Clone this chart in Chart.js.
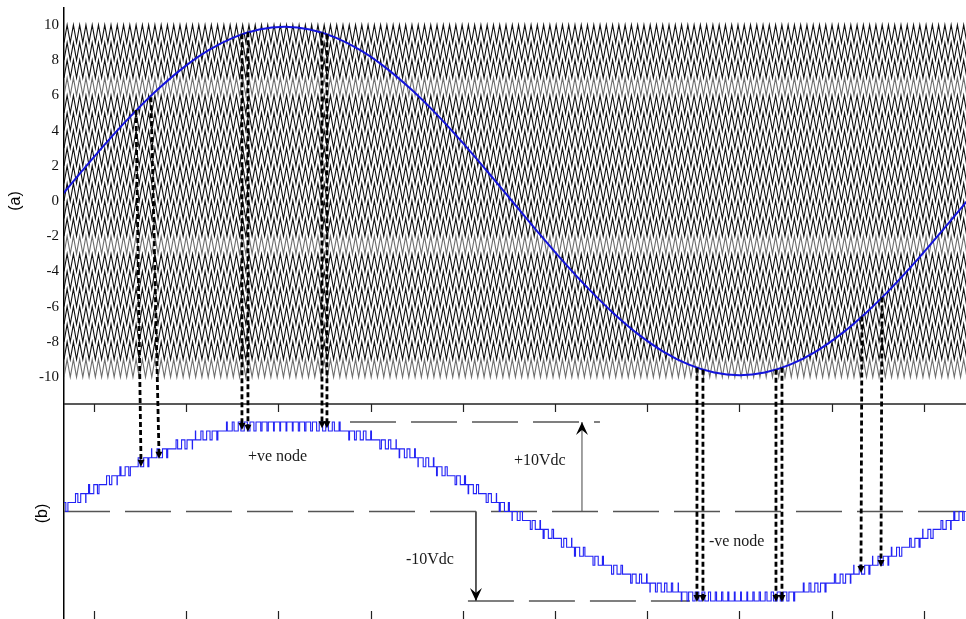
<!DOCTYPE html>
<html>
<head>
<meta charset="utf-8">
<script src="https://cdn.jsdelivr.net/npm/chart.js@4.4.1/dist/chart.umd.min.js"></script>
<style>
  html, body { margin: 0; padding: 0; background: #fff; overflow: hidden; }
  #wrap { width: 966px; height: 619px; position: relative; }
</style>
</head>
<body>
<div id="wrap"><canvas id="chart" width="966" height="619"></canvas></div>
<script>
// x is in bottom-axis tick units (one unit per tick mark)
const xTicks = [0, 1, 2, 3, 4, 5, 6, 7, 8, 9];
const yTicks = [-10, -8, -6, -4, -2, 0, 2, 4, 6, 8, 10];
const xMin = -0.325, xMax = 9.458;

// reference (modulating) wave
const refX = [-0.401, -0.127, 0.147, 0.422, 0.696, 0.970, 1.244, 1.518, 1.792, 2.067,
              2.341, 2.615, 2.889, 3.163, 3.437, 3.712, 3.986, 4.260, 4.534, 4.808,
              5.082, 5.357, 5.631, 5.905, 6.179, 6.453, 6.727, 7.002, 7.276, 7.550,
              7.824, 8.098, 8.372, 8.647, 8.921, 9.195, 9.469, 9.743];
const refY = [0, 1.72, 3.39, 4.95, 6.36, 7.58, 8.57, 9.30, 9.75, 9.90,
              9.75, 9.30, 8.57, 7.58, 6.36, 4.95, 3.39, 1.72, 0, -1.72,
              -3.39, -4.95, -6.36, -7.58, -8.57, -9.30, -9.75, -9.90, -9.75, -9.30,
              -8.57, -7.58, -6.36, -4.95, -3.39, -1.72, 0, 1.72];

// level-shifted triangular carriers: lower edge of each band
const bandLow = [-10, -9, -8, -7, -6, -5, -4, -3, -2, -1, 0, 1, 2, 3, 4, 5, 6, 7, 8, 9];
const grayBands = [6, -3, -10];
const carrierPeriod = 0.068;

// dashed arrows: [x on sine, sine value, x at tip, output level at tip]
const arrows = [
  [0.456, 5.17, 0.510, 5.0],
  [0.618, 5.90, 0.705, 5.9],
  [1.605, 9.48, 1.605, 9.1],
  [1.670, 9.59, 1.670, 8.9],
  [2.473, 9.57, 2.473, 9.3],
  [2.527, 9.48, 2.527, 9.3],
  [6.540, -9.48, 6.540, -10.1],
  [6.605, -9.59, 6.605, -10.1],
  [7.397, -9.59, 7.397, -10.1],
  [7.462, -9.48, 7.462, -10.1],
  [8.330, -6.56, 8.319, -6.87],
  [8.547, -5.48, 8.536, -6.2]
];

// long dashed guide lines in panel (b): [x from, x to, level]
const guideLines = [
  [2.777, 5.488, 10],
  [-0.325, 9.458, 0],
  [4.056, 6.464, -10]
];

// DC level arrows: [x, from level, to level]
const dcArrows = [
  [5.293, 0, 10],
  [4.143, 0, -10]
];

// text notes in panel (b): [text, x, level]
const notes = [
  ['+ve node', 1.670, 6.09],
  ['+10Vdc', 4.555, 5.64],
  ['-10Vdc', 3.384, -5.42],
  ['-ve node', 6.670, -3.41]
];

function refAt(x) {
  let j = 0;
  while (j < refX.length - 2 && refX[j + 1] < x) j++;
  const t = (x - refX[j]) / (refX[j + 1] - refX[j]);
  return refY[j] + t * (refY[j + 1] - refY[j]);
}
function carrierAt(x) {
  const f = ((x - xMin) / carrierPeriod) % 1;
  return 1 - Math.abs(2 * f - 1);
}

const datasets = [];

bandLow.forEach(k => {
  const pts = [];
  for (let i = 0; xMin + i * carrierPeriod / 2 <= xMax + carrierPeriod; i++) {
    pts.push({ x: xMin + i * carrierPeriod / 2, y: i % 2 ? k + 1 : k });
  }
  datasets.push({
    data: pts, yAxisID: 'y', order: 10,
    borderColor: grayBands.includes(k) ? '#6e6e6e' : '#111',
    borderWidth: 1.1
  });
});

datasets.push({
  data: refX.map((x, i) => ({ x: x, y: refY[i] })),
  yAxisID: 'y', order: 1,
  borderColor: '#1414dc', borderWidth: 2,
  cubicInterpolationMode: 'monotone'
});

// multilevel output: reference compared with the carriers
const outPts = [];
for (let x = xMin; x <= xMax; x += carrierPeriod / 24) {
  const s = refAt(x);
  const n = Math.floor(s);
  outPts.push({ x: x, y: n + (s - n > carrierAt(x) ? 1 : 0) });
}
datasets.push({
  data: outPts, yAxisID: 'y2', order: 2,
  borderColor: '#2323f5', borderWidth: 1.1, stepped: 'after'
});

guideLines.forEach(g => {
  datasets.push({
    data: [{ x: g[0], y: g[2] }, { x: g[1], y: g[2] }],
    yAxisID: 'y2', order: 3,
    borderColor: '#555', borderWidth: 1.3, borderDash: [46, 15]
  });
});

dcArrows.forEach(a => {
  datasets.push({
    data: [{ x: a[0], y: a[1] }, { x: a[0], y: a[2] }],
    yAxisID: 'y2', order: 3,
    borderColor: '#444', borderWidth: 1
  });
});

const panelEdge = 12.01;   // top edge of panel (b), in its own units

const decor = {
  id: 'decor',
  afterDatasetsDraw(chart) {
    const c = chart.ctx, xs = chart.scales.x, ys = chart.scales.y, y2 = chart.scales.y2;
    const area = chart.chartArea;
    c.save();

    // panel (b) frame line and tick marks
    const sep = y2.getPixelForValue(panelEdge);
    c.strokeStyle = '#222';
    c.lineWidth = 1.5;
    c.beginPath();
    c.moveTo(area.left, sep); c.lineTo(area.right, sep);
    c.stroke();
    c.lineWidth = 1.2;
    xTicks.forEach(v => {
      const px = Math.round(xs.getPixelForValue(v)) + 0.5;
      c.beginPath();
      c.moveTo(px, sep); c.lineTo(px, sep + 8);
      c.moveTo(px, area.bottom); c.lineTo(px, area.bottom - 8);
      c.stroke();
    });

    // DC arrow heads
    c.fillStyle = '#000';
    dcArrows.forEach(a => {
      const px = xs.getPixelForValue(a[0]);
      const tip = y2.getPixelForValue(a[2]);
      const d = a[2] > a[1] ? 1 : -1;
      c.beginPath();
      c.moveTo(px, tip);
      c.lineTo(px - 6, tip + d * 13);
      c.lineTo(px, tip + d * 8);
      c.lineTo(px + 6, tip + d * 13);
      c.closePath();
      c.fill();
    });

    // dashed projection arrows
    arrows.forEach(a => {
      const x1 = xs.getPixelForValue(a[0]), yA = ys.getPixelForValue(a[1]);
      const x2 = xs.getPixelForValue(a[2]), yB = y2.getPixelForValue(a[3]);
      c.strokeStyle = '#000';
      c.lineWidth = 2.8;
      c.setLineDash([5, 3]);
      c.beginPath();
      c.moveTo(x1, yA); c.lineTo(x2, yB - 6);
      c.stroke();
      c.setLineDash([]);
      c.beginPath();
      c.moveTo(x2, yB);
      c.lineTo(x2 - 3.5, yB - 7);
      c.lineTo(x2 + 3.5, yB - 7);
      c.closePath();
      c.fill();
    });

    // notes
    c.fillStyle = '#1a1a1a';
    c.font = '16px "Liberation Serif", "Times New Roman", serif';
    c.textAlign = 'left';
    c.textBaseline = 'middle';
    notes.forEach(n => {
      c.fillText(n[0], xs.getPixelForValue(n[1]), y2.getPixelForValue(n[2]));
    });

    // panel labels
    c.fillStyle = '#000';
    c.font = '16px "Liberation Sans", Arial, sans-serif';
    c.textAlign = 'center';
    [['(a)', 16, ys.getPixelForValue(0)], ['(b)', 43, y2.getPixelForValue(0) + 2]].forEach(l => {
      c.save();
      c.translate(l[1], l[2]);
      c.rotate(-Math.PI / 2);
      c.fillText(l[0], 0, 0);
      c.restore();
    });

    c.restore();
  }
};

new Chart(document.getElementById('chart'), {
  type: 'line',
  data: { datasets: datasets },
  options: {
    responsive: false,
    devicePixelRatio: 1,
    animation: false,
    parsing: false,
    normalized: true,
    events: [],
    layout: { padding: { top: 8, left: 0, right: 0, bottom: 0 } },
    elements: { point: { radius: 0 }, line: { tension: 0 } },
    plugins: { legend: { display: false }, tooltip: { enabled: false } },
    scales: {
      x: { type: 'linear', min: xMin, max: xMax, display: false },
      y: {
        type: 'linear', position: 'left', min: -23.75, max: 10.966,
        afterFit: s => { s.width = 64; s.paddingTop = 0; s.paddingBottom = 0; },
        afterBuildTicks: s => { s.ticks = yTicks.map(v => ({ value: v })); },
        grid: { drawOnChartArea: false, drawTicks: false },
        border: { display: true, color: '#000', width: 1.5 },
        ticks: {
          color: '#111', padding: 5,
          font: { family: '"Liberation Serif", "Times New Roman", serif', size: 15 }
        }
      },
      y2: { type: 'linear', min: -12.01, max: 56.26, display: false }
    }
  },
  plugins: [decor]
});
</script>
</body>
</html>
